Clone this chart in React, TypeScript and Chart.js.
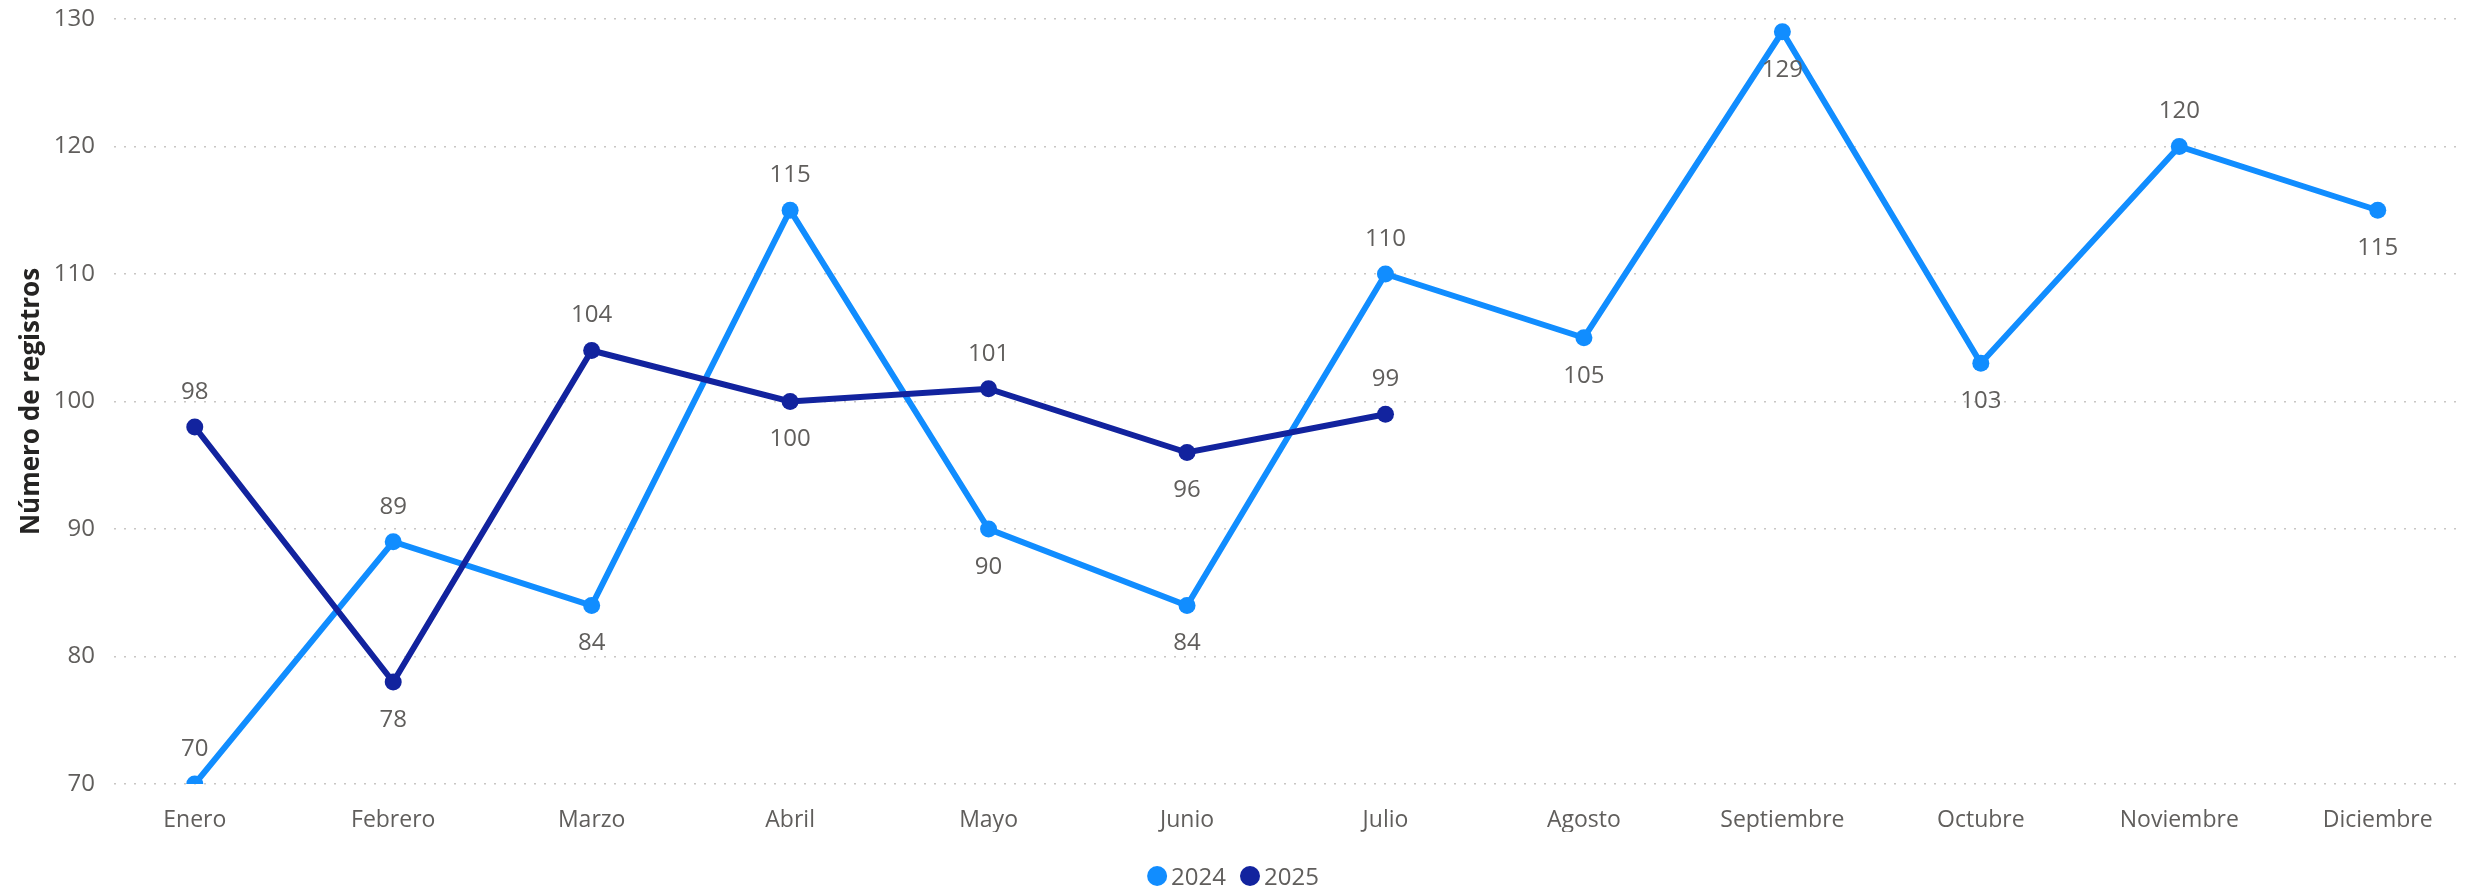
import React, { useEffect, useRef } from "react";
import { Chart, registerables } from "chart.js";

Chart.register(...registerables);

const months = [
  "Enero", "Febrero", "Marzo", "Abril", "Mayo", "Junio",
  "Julio", "Agosto", "Septiembre", "Octubre", "Noviembre", "Diciembre",
];
const seriesNames = ["2024", "2025"];
const values2024 = [70, 89, 84, 115, 90, 84, 110, 105, 129, 103, 120, 115];
const values2025 = [98, 78, 104, 100, 101, 96, 99];
const yTicks = [70, 80, 90, 100, 110, 120, 130];
const labelPos2024 = ["above", "above", "below", "above", "below", "below", "above", "below", "below", "below", "above", "below"];
const labelPos2025 = ["above", "below", "above", "below", "above", "below", "above"];

const FONT = "'Open Sans', 'Noto Sans', sans-serif";
const TEXT = "#605E5C";
const C2024 = "#118DFF";
const C2025 = "#12239E";

const dataLabelPlugin = {
  id: "dataLabels",
  afterDatasetsDraw(chart: any) {
    const ctx = chart.ctx;
    ctx.save();
    ctx.font = `24px ${FONT}`;
    ctx.fillStyle = TEXT;
    ctx.textAlign = "center";
    ctx.textBaseline = "middle";
    chart.data.datasets.forEach((ds: any, di: number) => {
      const meta = chart.getDatasetMeta(di);
      const pos = ds.labelPos as string[];
      meta.data.forEach((el: any, i: number) => {
        const v = ds.data[i].y;
        const off = pos[i] === "above" ? -35 : 38;
        ctx.fillText(String(v), el.x, el.y + off);
      });
    });
    ctx.restore();
  },
};

const legendPlugin = {
  id: "customLegend",
  afterDraw(chart: any) {
    const ctx = chart.ctx;
    ctx.save();
    ctx.font = `24px ${FONT}`;
    ctx.textBaseline = "middle";
    ctx.textAlign = "left";
    const r = 10;
    const gapText = 4;
    const gapItem = 14;
    const items = chart.data.datasets.map((ds: any) => ({
      label: ds.label,
      color: ds.borderColor,
      w: ctx.measureText(ds.label).width,
    }));
    const total = items.reduce((s: number, it: any) => s + 2 * r + gapText + it.w, 0) + gapItem * (items.length - 1);
    let x = chart.width / 2 - total / 2;
    const y = 876;
    items.forEach((it: any) => {
      ctx.fillStyle = it.color;
      ctx.beginPath();
      ctx.arc(x + r, y, r, 0, Math.PI * 2);
      ctx.fill();
      ctx.fillStyle = TEXT;
      ctx.fillText(it.label, x + 2 * r + gapText, y + 2);
      x += 2 * r + gapText + it.w + gapItem;
    });
    ctx.restore();
  },
};

export default function App() {
  const ref = useRef<HTMLCanvasElement | null>(null);
  useEffect(() => {
    if (!ref.current) return;
    const chart = new Chart(ref.current, {
      type: "line",
      data: {
        datasets: [
          {
            label: seriesNames[0],
            data: values2024.map((v, i) => ({ x: i, y: v })),
            borderColor: C2024,
            backgroundColor: C2024,
            pointBackgroundColor: C2024,
            borderWidth: 6,
            pointRadius: 8.5,
            pointBorderWidth: 0,
            order: 1,
            labelPos: labelPos2024,
          } as any,
          {
            label: seriesNames[1],
            data: values2025.map((v, i) => ({ x: i, y: v })),
            borderColor: C2025,
            backgroundColor: C2025,
            pointBackgroundColor: C2025,
            borderWidth: 6,
            pointRadius: 8.5,
            pointBorderWidth: 0,
            order: 0,
            labelPos: labelPos2025,
          } as any,
        ],
      },
      options: {
        animation: false,
        responsive: false,
        devicePixelRatio: 1,
        layout: { padding: { top: 19, right: 4, bottom: 56, left: 0 } },
        plugins: {
          legend: { display: false },
          tooltip: { enabled: false },
        },
        scales: {
          x: {
            type: "linear",
            min: -0.407,
            max: 11.402,
            afterBuildTicks: (scale: any) => {
              scale.ticks = months.map((_, i) => ({ value: i }));
            },
            afterFit: (scale: any) => {
              scale.height = 48;
              scale.paddingLeft = 0;
              scale.paddingRight = 0;
            },
            ticks: {
              autoSkip: false,
              maxRotation: 0,
              padding: 23,
              color: TEXT,
              font: { family: FONT, size: 23 },
              callback: (v: any) => months[v as number] ?? "",
            },
            grid: { display: false, drawTicks: false },
            border: { display: false },
          },
          y: {
            min: 70,
            max: 130,
            afterBuildTicks: (scale: any) => {
              scale.ticks = yTicks.map((v) => ({ value: v }));
            },
            afterFit: (scale: any) => {
              scale.width = 114;
              scale.paddingTop = 0;
              scale.paddingBottom = 0;
            },
            ticks: {
              padding: 19,
              color: TEXT,
              font: { family: FONT, size: 24 },
            },
            grid: { color: "#C8C6C4", lineWidth: 1.5, drawTicks: false },
            border: { display: false, dash: [2, 8] },
            title: {
              display: true,
              text: "Número de registros",
              color: "#252423",
              font: { family: FONT, size: 26, weight: "bold" },
              padding: { top: 16, bottom: 0 },
            },
          },
        },
      },
      plugins: [dataLabelPlugin, legendPlugin],
    });
    return () => chart.destroy();
  }, []);
  return (
    <div style={{ position: "fixed", left: 0, top: 0, width: 2466, height: 888, background: "#fff" }}>
      <canvas ref={ref} width={2466} height={888} />
    </div>
  );
}
